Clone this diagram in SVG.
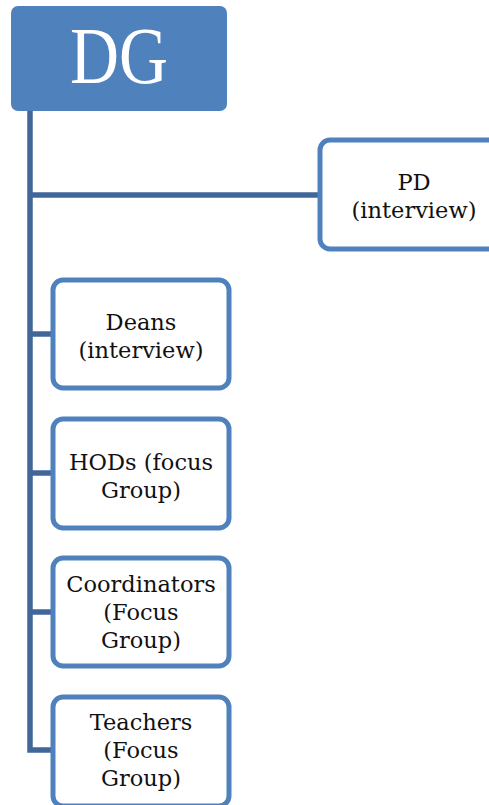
<svg xmlns="http://www.w3.org/2000/svg" width="489" height="805" viewBox="0 0 489 805">
<style>
.box{fill:#ffffff;stroke:#4f81bd;stroke-width:5}
.lbl{font-family:"DejaVu Serif","Liberation Serif",serif;font-size:22.5px;fill:#111111;text-anchor:middle}
.con{fill:none;stroke:#41679a;stroke-width:5.5}
</style>
<rect width="489" height="805" fill="#ffffff"/>
<g id="connectors">
<path class="con" d="M30 111 V750 H53"/>
<path class="con" d="M30 195 H320"/>
<path class="con" d="M30 334 H53"/>
<path class="con" d="M30 473 H53"/>
<path class="con" d="M30 612 H53"/>
</g>
<g id="dg">
<rect x="11" y="6" width="216" height="105" rx="7" fill="#4f81bd"/>
<text x="119" y="83" font-family="Liberation Serif, serif" font-size="80" fill="#ffffff" text-anchor="middle" textLength="98" lengthAdjust="spacingAndGlyphs">DG</text>
</g>
<g id="pd">
<rect class="box" x="320" y="140" width="188" height="109" rx="10"/>
<text class="lbl" x="414" y="190">PD</text>
<text class="lbl" x="414" y="218">(interview)</text>
</g>
<g id="deans">
<rect class="box" x="53" y="280" width="176" height="108" rx="10"/>
<text class="lbl" x="141" y="330">Deans</text>
<text class="lbl" x="141" y="358">(interview)</text>
</g>
<g id="hods">
<rect class="box" x="53" y="419" width="176" height="109" rx="10"/>
<text class="lbl" x="141" y="470">HODs (focus</text>
<text class="lbl" x="141" y="498">Group)</text>
</g>
<g id="coordinators">
<rect class="box" x="53" y="558" width="176" height="108" rx="10"/>
<text class="lbl" x="141" y="592">Coordinators</text>
<text class="lbl" x="141" y="620">(Focus</text>
<text class="lbl" x="141" y="648">Group)</text>
</g>
<g id="teachers">
<rect class="box" x="53" y="697" width="176" height="109" rx="10"/>
<text class="lbl" x="141" y="730">Teachers</text>
<text class="lbl" x="141" y="758">(Focus</text>
<text class="lbl" x="141" y="786">Group)</text>
</g>
</svg>
